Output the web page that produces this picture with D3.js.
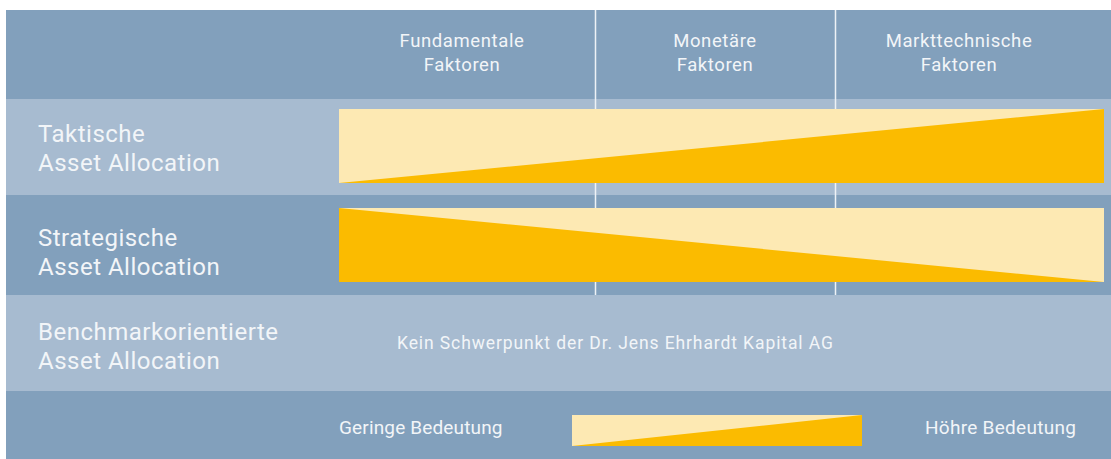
<!DOCTYPE html>
<html><head><meta charset="utf-8">
<script src="https://cdn.jsdelivr.net/npm/d3@7"></script>
<style>body{margin:0;background:#fff}svg{display:block}text{font-family:Roboto,"Open Sans",sans-serif;font-weight:400}</style>
</head><body>
<script>
// ---- data ----
const factors = [["Fundamentale", "Faktoren"], ["Monetäre", "Faktoren"], ["Markttechnische", "Faktoren"]];
const approaches = [["Taktische", "Asset Allocation"], ["Strategische", "Asset Allocation"], ["Benchmarkorientierte", "Asset Allocation"]];
const importanceStart = [0, 1, null];
const importanceEnd = [1, 0, null];
const noFocusNote = "Kein Schwerpunkt der Dr. Jens Ehrhardt Kapital AG";
const legendLabels = ["Geringe Bedeutung", "Höhre Bedeutung"];
const legendImportance = [0, 1];

// ---- layout / style ----
const W = 1111, H = 459;
const C = {dark: "#82a0bc", light: "#a7bbd0", hi: "#fbbb00", lo: "#fde9b3", text: "#f2f5f8", line: "#eef2f6"};
const panel = {x: 6, y: 10, r: 1111, b: 459};
const rowEdges = [10, 99, 195, 295, 391, 459];
const colEdges = [329, 595, 835, 1083];
const barX = [339, 1104];
const barInset = 10;
const barH = 74;

const svg = d3.select("body").append("svg").attr("width", W).attr("height", H);

// row bands
const bands = d3.range(rowEdges.length - 1);
svg.selectAll("rect.band").data(bands).join("rect")
  .attr("class", "band")
  .attr("x", panel.x).attr("width", panel.r - panel.x)
  .attr("y", i => rowEdges[i]).attr("height", i => rowEdges[i + 1] - rowEdges[i])
  .attr("fill", i => i % 2 === 0 ? C.dark : C.light);

// column dividers
svg.selectAll("line.div").data([colEdges[1], colEdges[2]]).join("line")
  .attr("x1", d => d + 0.5).attr("x2", d => d + 0.5)
  .attr("y1", rowEdges[0]).attr("y2", rowEdges[3])
  .attr("stroke", C.line).attr("stroke-width", 1.5);

// header labels
const hdr = svg.selectAll("text.hdr").data(factors).join("text")
  .attr("class", "hdr")
  .attr("x", (d, i) => (colEdges[i] + colEdges[i + 1]) / 2)
  .attr("text-anchor", "middle")
  .attr("fill", C.text).attr("font-size", 18.5).attr("letter-spacing", 0.6);
hdr.selectAll("tspan").data(d => d).join("tspan")
  .attr("x", function () { return d3.select(this.parentNode).attr("x"); })
  .attr("y", (d, j) => 47 + j * 23.5)
  .text(d => d);

// row labels
const lbl = svg.selectAll("text.row").data(approaches).join("text")
  .attr("class", "row")
  .attr("fill", C.text).attr("font-size", 24).attr("letter-spacing", 0.5);
const rowBase = [142, 246, 340];
lbl.selectAll("tspan").data((d, i) => d.map(s => ({s, i}))).join("tspan")
  .attr("x", 38)
  .attr("y", (d, j) => rowBase[d.i] + j * 28.5)
  .text(d => d.s);

// importance bars
const x = d3.scaleLinear().domain([0, 1]).range(barX);
approaches.forEach((a, i) => {
  if (importanceStart[i] == null) return;
  const top = rowEdges[i + 1] + barInset + (i === 1 ? 3 : 0);
  const bottom = top + barH;
  const y = d3.scaleLinear().domain([0, 1]).range([bottom, top]);
  const g = svg.append("g");
  g.append("rect").attr("x", barX[0]).attr("y", top)
    .attr("width", barX[1] - barX[0]).attr("height", barH).attr("fill", C.lo);
  const pts = [{t: 0, v: importanceStart[i]}, {t: 1, v: importanceEnd[i]}];
  g.append("path").datum(pts)
    .attr("d", d3.area().x(d => x(d.t)).y0(bottom).y1(d => y(d.v)))
    .attr("fill", C.hi);
});

// note for benchmark row
svg.append("text").attr("x", 397).attr("y", 349)
  .attr("fill", C.text).attr("font-size", 17.5).attr("letter-spacing", 0.9).text(noFocusNote);

// legend
const lx = d3.scaleLinear().domain([0, 1]).range([572, 862]);
const ly = d3.scaleLinear().domain([0, 1]).range([446, 415]);
svg.append("rect").attr("x", lx(0)).attr("y", ly(1)).attr("width", lx(1) - lx(0))
  .attr("height", ly(0) - ly(1)).attr("fill", C.lo);
svg.append("path").datum(legendImportance.map((v, k) => ({t: k, v})))
  .attr("d", d3.area().x(d => lx(d.t)).y0(ly(0)).y1(d => ly(d.v)))
  .attr("fill", C.hi);
svg.append("text").attr("x", 339).attr("y", 434).attr("fill", C.text)
  .attr("font-size", 19).attr("letter-spacing", 0.15).text(legendLabels[0]);
svg.append("text").attr("x", 925).attr("y", 434).attr("fill", C.text)
  .attr("font-size", 19).attr("letter-spacing", 0.28).text(legendLabels[1]);
</script>
</body></html>
